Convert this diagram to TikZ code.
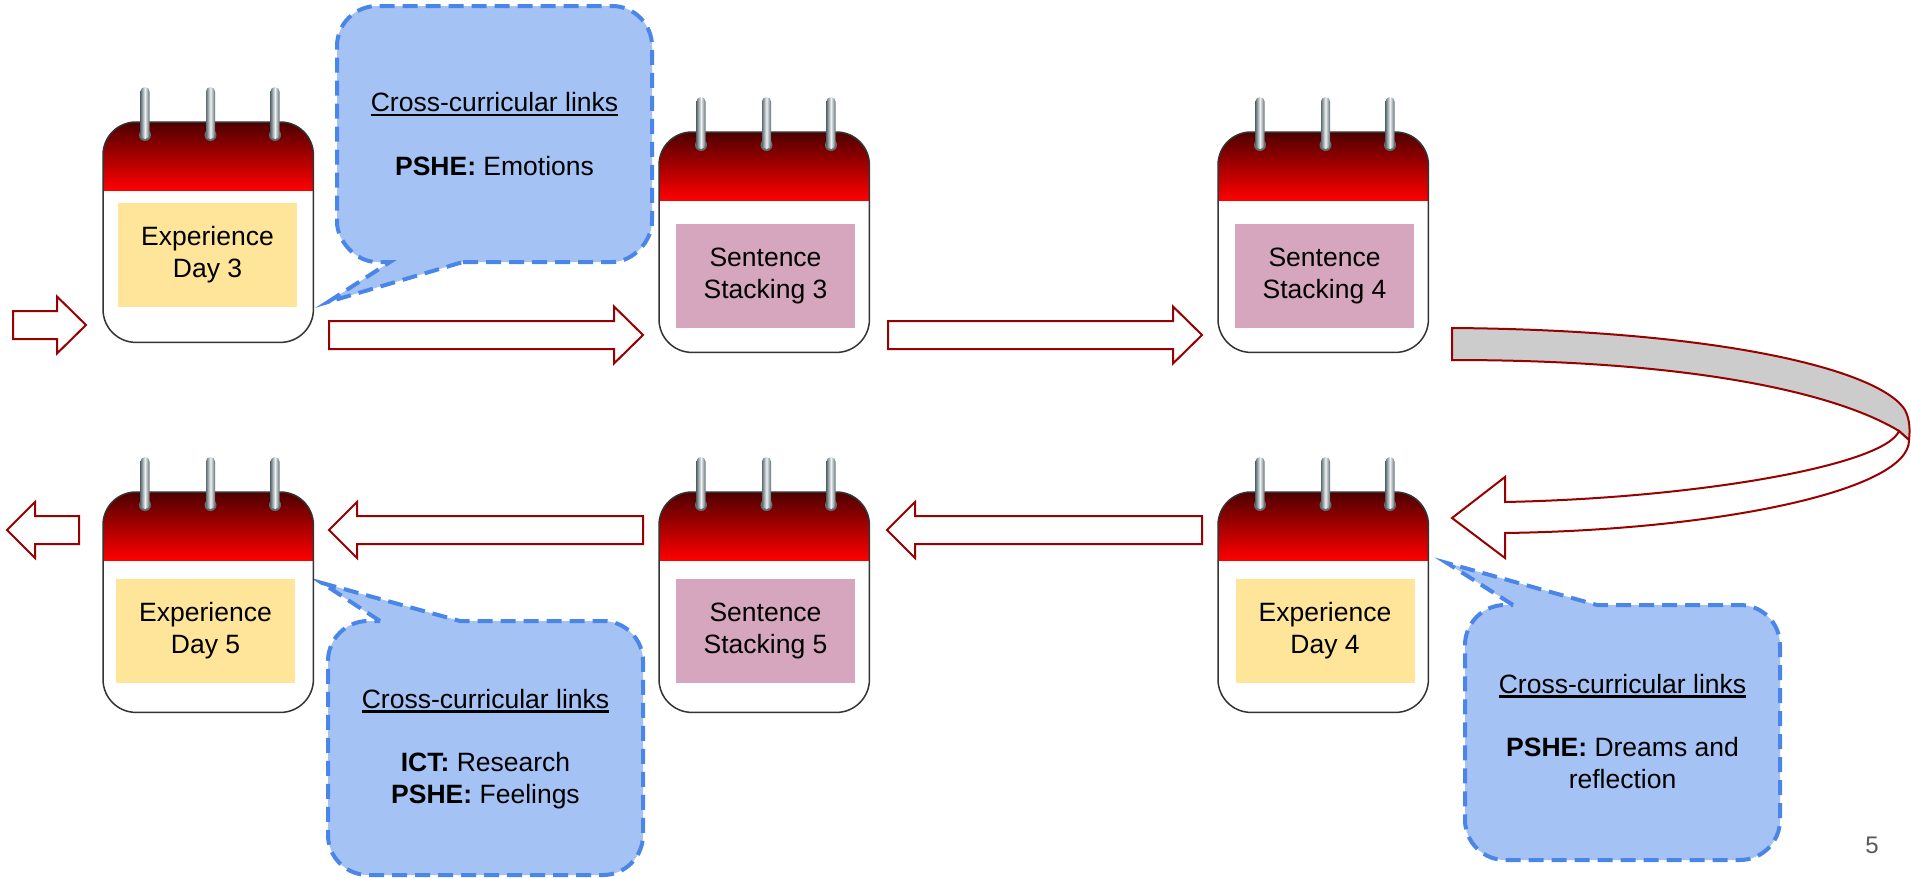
\documentclass[tikz,border=0pt]{standalone}
\usepackage{fontspec}
\setmainfont{Liberation Sans}
\usetikzlibrary{calc}
\definecolor{calTop}{HTML}{4D0000}
\definecolor{calBot}{HTML}{FF0000}
\definecolor{yelc}{HTML}{FFE599}
\definecolor{pinkc}{HTML}{D5A6BD}
\definecolor{calloutfill}{HTML}{A4C2F4}
\definecolor{calloutline}{HTML}{4A86E8}
\definecolor{arrowred}{HTML}{990000}
\definecolor{bandgray}{HTML}{CCCCCC}
\definecolor{ringdark}{HTML}{5E6E73}
\definecolor{ringlight}{HTML}{EEF2F3}
\definecolor{pagegray}{HTML}{595959}
\newcommand\myul[1]{\setbox0\hbox{#1}\rlap{\rule[-4.8pt]{\wd0}{2.6pt}}\box0}
\tikzset{
 txt/.style={font=\fontsize{26.5}{31.8}\selectfont, align=center, text=black, inner sep=0pt},
 content/.style={txt, minimum width=179pt, minimum height=104pt},
 calbody/.style={fill=white, minimum width=210pt, minimum height=220pt, inner sep=0pt, rounded corners=33pt},
 calline/.style={draw=black!80, line width=1.5pt},
 blockarrow/.style={draw=arrowred, line width=2pt, fill=white, line join=miter},
 curvearrow/.style={draw=arrowred, line width=2pt, line join=miter},
 callout/.style={draw=calloutline, fill=calloutfill, line width=4pt, dash pattern=on 15pt off 8pt},
 ring/.style={left color=ringdark, right color=ringdark, middle color=ringlight},
}
\newcommand\MyCal[3]{%
 \node[calbody, anchor=north west] (#1) at (#2,#3) {};
 \begin{scope}
  \clip[rounded corners=33pt] (#1.north west) rectangle (#1.south east);
  \shade[top color=calTop, bottom color=calBot] (#1.north west) rectangle ($(#1.north east)+(0,68)$);
 \end{scope}
 \draw[calline, rounded corners=33pt] (#1.north west) rectangle (#1.south east);
 \foreach \dx in {42,107.5,172}{%
   \fill[ringdark] ($(#1.north west)+(\dx,13)$) circle (6pt);
   \shade[ring, rounded corners=4.5pt] ($(#1.north west)+(\dx-4.5,-35)$) rectangle ($(#1.north west)+(\dx+4.5,17)$);
 }%
}
\newcommand\RArr[4]{% name, tail x, tip x, y
 \coordinate (#1-tail) at (#2,#4); \coordinate (#1-tip) at (#3,#4);
 \draw[blockarrow] (#2,#4-14) -- (#3-29,#4-14) -- (#3-29,#4-28.5) -- (#1-tip) -- (#3-29,#4+28.5) -- (#3-29,#4+14) -- (#2,#4+14) -- cycle;}
\newcommand\LArr[4]{% name, tail x, tip x, y
 \coordinate (#1-tail) at (#2,#4); \coordinate (#1-tip) at (#3,#4);
 \draw[blockarrow] (#2,#4-14) -- (#3+28,#4-14) -- (#3+28,#4-28) -- (#1-tip) -- (#3+28,#4+28) -- (#3+28,#4+14) -- (#2,#4+14) -- cycle;}
\begin{document}
\begin{tikzpicture}[x=1pt,y=-1pt]
\useasboundingbox (0,0) rectangle (1911,878);
\fill[white] (0,0) rectangle (1911,878);

% callouts (behind)
\draw[callout] (463,262) -- (612,262) .. controls (634,262) and (652,240) .. (652,222) -- (652,46) .. controls (652,24) and (634,6) .. (612,6) -- (377,6) .. controls (355,6) and (337,24) .. (337,46) -- (337,222) .. controls (337,240) and (355,262) .. (377,262) -- (390,262) -- (328,302) -- cycle;
\node[txt] (co1) at (494.5,134) {\myul{Cross-curricular links}\\[31.8pt]\textbf{PSHE:} Emotions};

\draw[callout] (380,621) -- (322,583) -- (460,621) -- (603,621) .. controls (625,621) and (643,639) .. (643,661) -- (643,835) .. controls (643,857) and (625,875) .. (603,875) -- (368,875) .. controls (346,875) and (328,857) .. (328,835) -- (328,661) .. controls (328,639) and (346,621) .. (368,621) -- cycle;
\node[txt] (co3) at (485.5,749) {\myul{Cross-curricular links}\\[31.8pt]\textbf{ICT:} Research\\\textbf{PSHE:} Feelings};

\draw[callout] (1513,605) -- (1447,563) -- (1597,605) -- (1740,605) .. controls (1762,605) and (1780,623) .. (1780,645) -- (1780,820) .. controls (1780,842) and (1762,860) .. (1740,860) -- (1505,860) .. controls (1483,860) and (1465,842) .. (1465,820) -- (1465,645) .. controls (1465,623) and (1483,605) .. (1505,605) -- cycle;
\node[txt] (co2) at (1622.5,731.5) {\myul{Cross-curricular links}\\[31.8pt]\textbf{PSHE:} Dreams and\\reflection};

% calendars
\MyCal{c1}{103}{122}
\MyCal{c2}{659}{132}
\MyCal{c3}{1218}{132}
\MyCal{c4}{103}{492}
\MyCal{c5}{659}{492}
\MyCal{c6}{1218}{492}

\node[content, fill=yelc]  (t1) at (207.5,255) {Experience\\Day 3};
\node[content, fill=pinkc] (t2) at (765.5,276) {Sentence\\Stacking 3};
\node[content, fill=pinkc] (t3) at (1324.5,276) {Sentence\\Stacking 4};
\node[content, fill=yelc]  (t4) at (205.5,631) {Experience\\Day 5};
\node[content, fill=pinkc] (t5) at (765.5,631) {Sentence\\Stacking 5};
\node[content, fill=yelc]  (t6) at (1325,631) {Experience\\Day 4};

% straight block arrows
\RArr{a0}{13}{86}{325}
\RArr{a1}{329}{643}{335}
\RArr{a2}{888}{1202}{335}
\LArr{b1}{1202}{887}{530}
\LArr{b2}{643}{329}{530}
\LArr{b3}{79}{7}{530}

% curved arrow from c3 to c6
\coordinate (ua-tail) at (1452,344);
\coordinate (ua-tip) at (1452,518);
\draw[curvearrow, fill=bandgray] (1452,328) .. controls (1720,330) and (1880,370) .. (1905,410) .. controls (1910,420) and (1910,430) .. (1909,440) -- (1899,431) .. controls (1840,395) and (1700,360) .. (1452,360) -- cycle;
\draw[curvearrow, fill=white] (1909,440) .. controls (1910,490) and (1720,530) .. (1505,533) -- (1505,558) -- (ua-tip) -- (1505,477) -- (1505,502) .. controls (1700,498) and (1885,465) .. (1899,431) -- cycle;

% page number
\node[font=\fontsize{24}{28}\selectfont, text=pagegray, anchor=base, inner sep=0pt] (pg) at (1872,853) {5};
\end{tikzpicture}
\end{document}
